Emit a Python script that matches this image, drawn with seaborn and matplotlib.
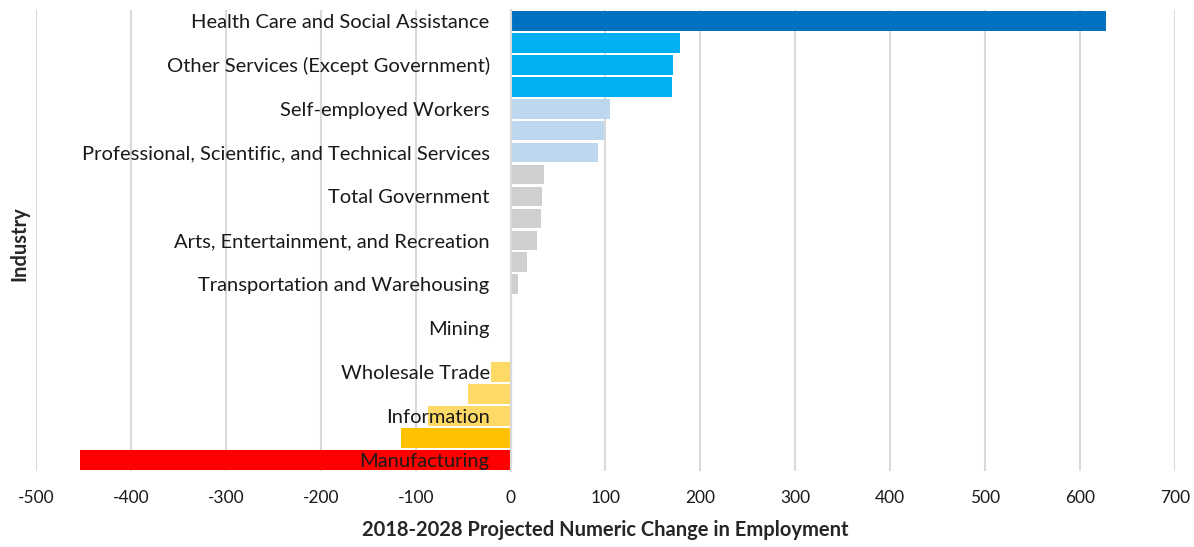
import matplotlib
matplotlib.use("Agg")
import matplotlib.pyplot as plt
import pandas as pd
import seaborn as sns

# 2018-2028 projected numeric change in employment, by industry
industries = [
    "Health Care and Social Assistance",
    "Accommodation and Food Services",
    "Other Services (Except Government)",
    "Construction",
    "Self-employed Workers",
    "Administrative and Support Services",
    "Professional, Scientific, and Technical Services",
    "Educational Services",
    "Total Government",
    "Finance and Insurance",
    "Arts, Entertainment, and Recreation",
    "Real Estate and Rental and Leasing",
    "Transportation and Warehousing",
    "Management of Companies and Enterprises",
    "Mining",
    "Utilities",
    "Wholesale Trade",
    "Retail Trade",
    "Information",
    "Agriculture, Forestry, Fishing and Hunting",
    "Manufacturing",
]
change = [627, 178, 171, 170, 105, 98, 92, 35, 33, 32, 28, 17, 8,
          0, 0, 0, -21, -45, -87, -115, -454]

bar_colors = ["#0070C0"] + ["#00B0F0"] * 3 + ["#BDD7EE"] * 3 + ["#D0CECE"] * 9 \
    + ["#FFD966"] * 3 + ["#FFC000"] + ["#FF0000"]

df = pd.DataFrame({"Industry": industries, "Change": change})

sns.set_style("white")
plt.rcParams["font.family"] = ["Lato", "DejaVu Sans"]
plt.rcParams["axes.unicode_minus"] = False

fig = plt.figure(figsize=(11.94, 5.47), dpi=100)
ax = fig.add_axes([0.0302, 0.139, 0.9538, 0.843])

sns.barplot(data=df, x="Change", y="Industry", hue="Industry",
            palette=bar_colors, legend=False, width=0.9, orient="h",
            saturation=1, linewidth=0, ax=ax, zorder=2)

ax.set_xlim(-500, 700)
ax.set_xticks(range(-500, 701, 100))
ax.tick_params(axis="x", labelsize=12.5, colors="#1a1a1a", length=0, pad=14)
ax.grid(axis="x", color="#D9D9D9", linewidth=1.5, zorder=0)
ax.set_axisbelow(True)

# only every other industry name is shown, drawn over the bars
ax.set_yticks(range(len(industries)))
ax.set_yticklabels([n if i % 2 == 0 else "" for i, n in enumerate(industries)])
ax.spines["left"].set_position(("data", 0))
ax.spines["left"].set_color("#D9D9D9")
ax.spines["left"].set_linewidth(1.5)
ax.spines["left"].set_zorder(3)
for s in ["top", "right", "bottom"]:
    ax.spines[s].set_visible(False)
ax.tick_params(axis="y", labelsize=14.5, colors="#1a1a1a", length=0, pad=15)
ax.yaxis.set_zorder(5)

ax.set_xlabel("2018-2028 Projected Numeric Change in Employment",
              fontsize=14.5, fontweight="bold", labelpad=10)
ax.set_ylabel("")
fig.text(0.016, 0.555, "Industry", rotation=90, fontsize=14.5,
         fontweight="bold", va="center", ha="center")

fig.savefig("out.png", dpi=100)
